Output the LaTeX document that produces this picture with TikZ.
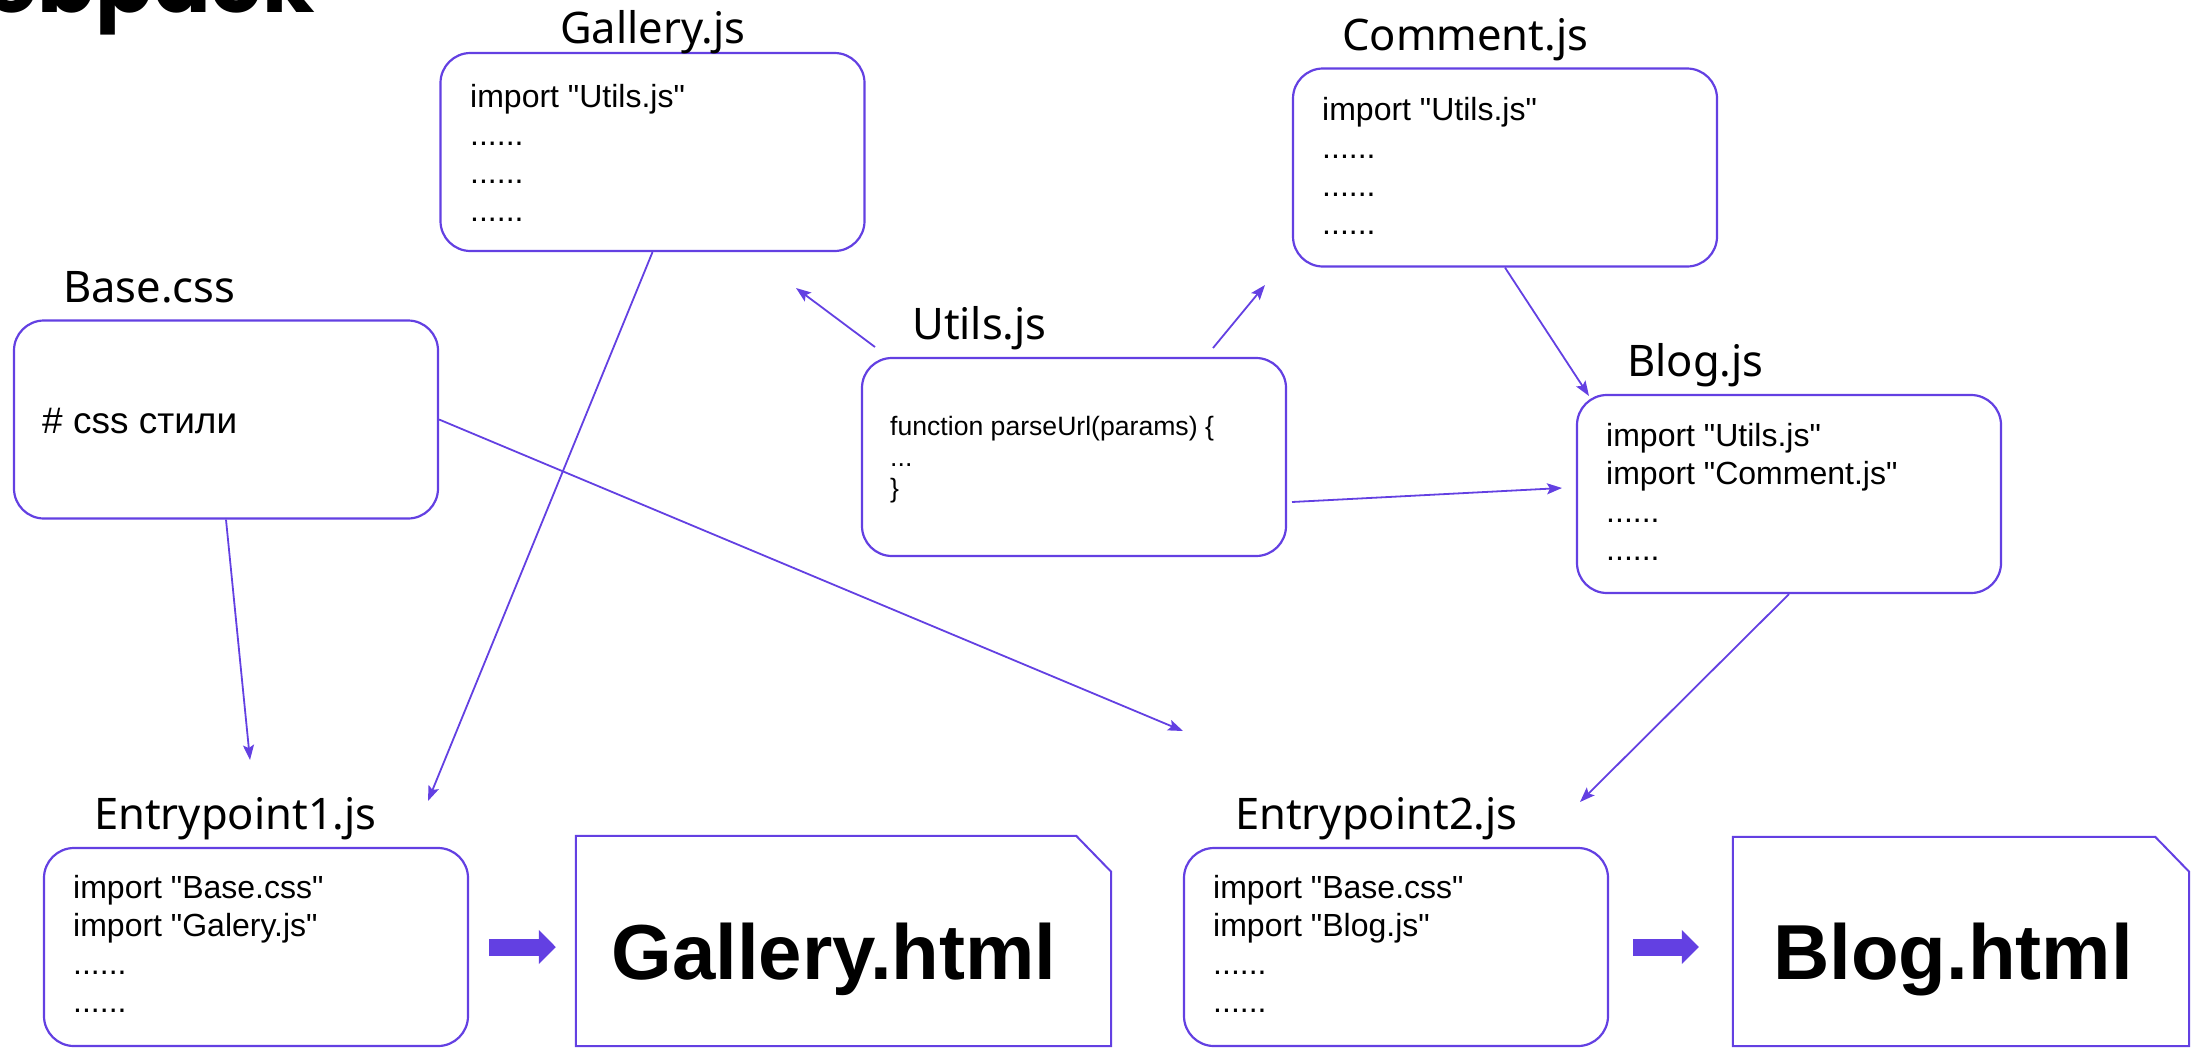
\documentclass[tikz,border=0pt]{standalone}
\usepackage{fontspec}
\setmainfont{Liberation Sans}[Ligatures=TeXOff]
\newfontfamily\titlefont{Noto Sans}
\newfontfamily\headfont{Poppins}
\usetikzlibrary{arrows.meta}

\definecolor{linkviolet}{RGB}{99,64,226}

\tikzset{
  file/.style={draw=linkviolet, line width=2.2pt, rounded corners=30pt,
    minimum width=424pt, minimum height=198pt, inner sep=0pt},
  fname/.style={anchor=base west, inner sep=0pt,
    font=\titlefont\fontsize{43.5}{50}\selectfont},
  % base anchor of a multi-line node = baseline of its last line
  code/.style={anchor=base west, inner sep=0pt, align=left,
    font=\fontsize{32}{38}\selectfont},
  link/.style={draw=linkviolet, line width=1.8pt,
    -{Stealth[length=15pt,width=11pt,inset=3pt]}},
  bundle/.style={draw=linkviolet, line width=17pt,
    -{Triangle[length=17pt,width=33pt]}},
  page/.style={draw=linkviolet, line width=2pt},
  pagename/.style={anchor=base, inner sep=0pt,
    font=\bfseries\fontsize{78}{90}\selectfont},
}

\begin{document}
\begin{tikzpicture}[x=1pt, y=-1pt]
\useasboundingbox (0,0) rectangle (2203,1047);

% Heading, cut by the top edge
\node[anchor=base east, inner sep=0pt,
  font=\headfont\bfseries\fontsize{85}{90}\selectfont] (heading) at (315,12) {Webpack};

% Source files
\node[file] (gallery) at (652.5,152) {};
\node[file] (comment) at (1505,167.5) {};
\node[file] (base) at (226,419.5) {};
\node[file] (utils) at (1074,457) {};
\node[file] (blog) at (1789,494) {};
\node[file] (entry1) at (256,947) {};
\node[file] (entry2) at (1396,947) {};

% File names
\node[fname] (galleryName) at (560,43) {Gallery.js};
\node[fname] (commentName) at (1342,50) {Comment.js};
\node[fname] (baseName) at (63,302) {Base.css};
\node[fname] (utilsName) at (912,339) {Utils.js};
\node[fname] (blogName) at (1627,376) {Blog.js};
\node[fname] (entry1Name) at (94,829) {Entrypoint1.js};
\node[fname] (entry2Name) at (1235,829) {Entrypoint2.js};

% File contents
\node[code] (galleryCode) at (470,221) {import "Utils.js"\\......\\......\\......};
\node[code] (commentCode) at (1322,234) {import "Utils.js"\\......\\......\\......};
\node[code, font=\fontsize{37}{44}\selectfont] (baseCode) at (42,433) {\# css стили};
\node[code, font=\fontsize{26.6}{31}\selectfont] (utilsCode) at (890,497)
  {function parseUrl(params) \{\\...\\\}};
\node[code] (blogCode) at (1606,560) {import "Utils.js"\\import "Comment.js"\\......\\......};
\node[code] (entry1Code) at (73,1012) {import "Base.css"\\import "Galery.js"\\......\\......};
\node[code] (entry2Code) at (1213,1012) {import "Base.css"\\import "Blog.js"\\......\\......};

% Built pages
\node[minimum width=535pt, minimum height=210pt, inner sep=0pt] (galleryHtml) at (843.5,941) {};
\draw[page] (galleryHtml.south west) -- (galleryHtml.north west)
  -- ([xshift=-35pt]galleryHtml.north east) -- ([yshift=-36pt]galleryHtml.north east)
  -- (galleryHtml.south east) -- cycle;
\node[pagename] (galleryTitle) at (834,979) {Gallery.html};

\node[minimum width=456pt, minimum height=209pt, inner sep=0pt] (blogHtml) at (1961,941.5) {};
\draw[page] (blogHtml.south west) -- (blogHtml.north west)
  -- ([xshift=-34pt]blogHtml.north east) -- ([yshift=-35pt]blogHtml.north east)
  -- (blogHtml.south east) -- cycle;
\node[pagename] (blogTitle) at (1953,979) {Blog.html};

% Free ends of the imports
\coordinate (utilsToGallery) at (875,347);
\coordinate (galleryIn) at (796,288);
\coordinate (utilsToComment) at (1213,348);
\coordinate (commentIn) at (1265,285);
\coordinate (utilsToBlog) at (1292,502);
\coordinate (blogIn) at (1562,488);
\coordinate (blogInTop) at (1589,396);
\coordinate (entry1In) at (428,801);
\coordinate (entry1InCss) at (250,760);
\coordinate (entry2InCss) at (1183,731);
\coordinate (entry2In) at (1580,802);

% Imports
\draw[link] (utilsToGallery) -- (galleryIn);
\draw[link] (utilsToComment) -- (commentIn);
\draw[link] (utilsToBlog) -- (blogIn);
\draw[link] (comment.south) -- (blogInTop);
\draw[link] (gallery.south) -- (entry1In);
\draw[link] (base.south) -- (entry1InCss);
\draw[link] (base.east) -- (entry2InCss);
\draw[link] (blog.south) -- (entry2In);

% Build
\draw[bundle, shorten <=20pt, shorten >=20pt] (entry1.east) -- (entry1.east -| galleryHtml.west);
\draw[bundle, shorten <=24pt, shorten >=34pt] (entry2.east) -- (entry2.east -| blogHtml.west);

\end{tikzpicture}
\end{document}
